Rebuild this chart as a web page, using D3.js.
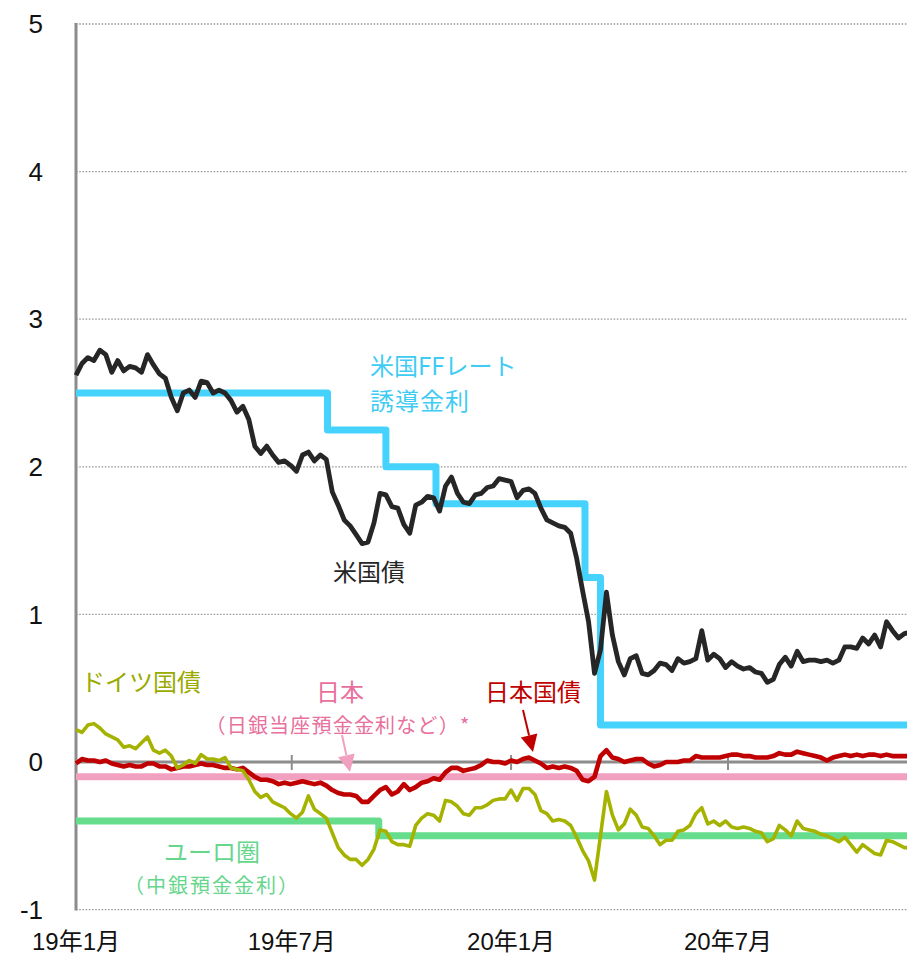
<!DOCTYPE html>
<html>
<head>
<meta charset="utf-8">
<script src="https://cdn.jsdelivr.net/npm/d3@7"></script>
<style>
  html, body { margin: 0; padding: 0; background: #ffffff; }
  svg { display: block; }
</style>
</head>
<body>
<svg id="chart" width="907" height="959"></svg>
<script>
// ---- data -------------------------------------------------------------
const yTicks = [-1, 0, 1, 2, 3, 4, 5];
const xTickLabels = ["19年1月", "19年7月", "20年1月", "20年7月"];
const xTickDates = ["2019-01-01", "2019-07-01", "2020-01-01", "2020-07-01"];

// daily yields sampled every 5 calendar days from 2019-01-01
const sampleStart = "2019-01-01";
const sampleStepDays = 5;

// 米国債 (10y)
const usTreasury = [
  2.62, 2.70, 2.74, 2.72, 2.79, 2.76, 2.64, 2.72, 2.65, 2.68,
  2.67, 2.64, 2.76, 2.69, 2.63, 2.60, 2.47, 2.38, 2.50, 2.52,
  2.47, 2.58, 2.57, 2.50, 2.52, 2.50, 2.45, 2.37, 2.41, 2.32,
  2.14, 2.09, 2.14, 2.08, 2.03, 2.04, 2.01, 1.97, 2.08, 2.10,
  2.04, 2.08, 2.05, 1.83, 1.74, 1.64, 1.60, 1.54, 1.48, 1.49,
  1.62, 1.82, 1.81, 1.73, 1.72, 1.61, 1.55, 1.74, 1.76, 1.80,
  1.79, 1.70, 1.87, 1.93, 1.82, 1.76, 1.75, 1.81, 1.82, 1.86,
  1.87, 1.92, 1.91, 1.90, 1.79, 1.84, 1.85, 1.82, 1.72, 1.64,
  1.62, 1.60, 1.59, 1.55, 1.38, 1.16, 0.95, 0.60, 0.76, 1.15,
  0.86, 0.68, 0.59, 0.70, 0.72, 0.60, 0.59, 0.62, 0.67, 0.66,
  0.62, 0.70, 0.67, 0.68, 0.70, 0.89, 0.69, 0.73, 0.70, 0.64,
  0.68, 0.65, 0.63, 0.64, 0.61, 0.60, 0.54, 0.56, 0.66, 0.71,
  0.65, 0.75, 0.68, 0.69, 0.69, 0.68, 0.69, 0.67, 0.69, 0.78,
  0.78, 0.77, 0.84, 0.80, 0.86, 0.78, 0.95, 0.89, 0.84, 0.87,
  0.88
];

// 日本国債 (10y)
const jgb = [
  -0.01, 0.02, 0.01, 0.01, 0.00, 0.01, -0.01, -0.02, -0.03, -0.02,
  -0.03, -0.03, -0.01, -0.01, -0.03, -0.03, -0.05, -0.04, -0.03, -0.03,
  -0.02, -0.01, -0.02, -0.02, -0.03, -0.04, -0.04, -0.05, -0.04, -0.07,
  -0.10, -0.12, -0.12, -0.13, -0.15, -0.14, -0.15, -0.14, -0.13, -0.14,
  -0.15, -0.14, -0.16, -0.19, -0.21, -0.22, -0.22, -0.23, -0.27, -0.27,
  -0.23, -0.19, -0.17, -0.22, -0.20, -0.15, -0.19, -0.17, -0.14, -0.13,
  -0.11, -0.12, -0.07, -0.04, -0.04, -0.06, -0.05, -0.04, -0.02, 0.01,
  0.00, 0.00, -0.01, 0.01, 0.00, 0.02, 0.03, 0.01, -0.01, -0.04,
  -0.03, -0.04, -0.03, -0.04, -0.06, -0.12, -0.13, -0.10, 0.04, 0.08,
  0.03, 0.02, 0.00, 0.01, 0.02, 0.02, -0.01, -0.03, -0.02, 0.00,
  0.00, 0.00, 0.01, 0.01, 0.04, 0.03, 0.03, 0.03, 0.03, 0.04,
  0.05, 0.05, 0.04, 0.04, 0.03, 0.03, 0.03, 0.04, 0.06, 0.05,
  0.05, 0.07, 0.06, 0.05, 0.04, 0.03, 0.01, 0.03, 0.04, 0.05,
  0.04, 0.05, 0.04, 0.05, 0.05, 0.04, 0.05, 0.04, 0.04, 0.04,
  0.04
];

// ドイツ国債 (10y)
const bund = [
  0.22, 0.20, 0.25, 0.26, 0.23, 0.19, 0.17, 0.15, 0.10, 0.11,
  0.09, 0.13, 0.17, 0.08, 0.06, 0.08, 0.04, -0.04, -0.02, 0.01,
  -0.01, 0.05, 0.02, 0.02, 0.01, 0.03, -0.04, -0.05, -0.06, -0.12,
  -0.20, -0.24, -0.22, -0.27, -0.29, -0.31, -0.35, -0.38, -0.34, -0.23,
  -0.32, -0.35, -0.38, -0.48, -0.58, -0.63, -0.66, -0.66, -0.70, -0.66,
  -0.59, -0.46, -0.47, -0.54, -0.56, -0.56, -0.57, -0.43, -0.38, -0.35,
  -0.36, -0.40, -0.26, -0.27, -0.30, -0.35, -0.36, -0.31, -0.31, -0.29,
  -0.26, -0.25, -0.25, -0.19, -0.26, -0.18, -0.18, -0.22, -0.33, -0.35,
  -0.40, -0.39, -0.40, -0.43, -0.51, -0.60, -0.67, -0.80, -0.50, -0.20,
  -0.36, -0.46, -0.42, -0.32, -0.36, -0.44, -0.45, -0.50, -0.56, -0.53,
  -0.53, -0.47, -0.46, -0.43, -0.35, -0.31, -0.42, -0.40, -0.43, -0.40,
  -0.44, -0.45, -0.44, -0.45, -0.47, -0.48, -0.54, -0.52, -0.43, -0.46,
  -0.50, -0.40, -0.45, -0.46, -0.47, -0.49, -0.50, -0.52, -0.54, -0.51,
  -0.56, -0.61, -0.56, -0.59, -0.62, -0.63, -0.53, -0.54, -0.56, -0.58,
  -0.58
];

// 米国FFレート誘導金利 (upper bound), change dates
const ffDates = ["2019-01-01", "2019-07-31", "2019-09-18", "2019-10-30", "2020-03-03", "2020-03-16", "2020-12-01"];
const ffRate  = [2.50, 2.25, 2.00, 1.75, 1.25, 0.25, 0.25];

// ユーロ圏 中銀預金金利
const ecbDates = ["2019-01-01", "2019-09-12", "2020-12-01"];
const ecbRate  = [-0.40, -0.50, -0.50];

// 日本 日銀当座預金金利
const bojDates = ["2019-01-01", "2020-12-01"];
const bojRate  = [-0.10, -0.10];

// ---- helpers ----------------------------------------------------------
const parse = d3.utcParse("%Y-%m-%d");
const start = parse(sampleStart);
const sampled = vals => vals.map((v, i) => ({ date: d3.utcDay.offset(start, i * sampleStepDays), value: v }));
const stepped = (dates, vals) => dates.map((d, i) => ({ date: parse(d), value: vals[i] }));

// ---- layout -----------------------------------------------------------
const svg = d3.select("#chart");
const plot = { left: 76, right: 910.4, top: 24, bottom: 909.6 };

const x = d3.scaleUtc()
  .domain([parse("2019-01-01"), parse("2020-12-01")])
  .range([plot.left, plot.right]);
const y = d3.scaleLinear().domain([-1, 5]).range([plot.bottom, plot.top]);

const axisGray = "#8c8c8c";

// dotted gridlines
svg.append("g").selectAll("line")
  .data(yTicks.filter(v => v !== 0))
  .join("line")
  .attr("x1", plot.left).attr("x2", 907)
  .attr("y1", d => y(d)).attr("y2", d => y(d))
  .attr("stroke", "#9a9a9a").attr("stroke-width", 1.3)
  .attr("stroke-dasharray", "1.6,1.6");

// zero line with month ticks
svg.append("line")
  .attr("x1", plot.left).attr("x2", 907)
  .attr("y1", y(0)).attr("y2", y(0))
  .attr("stroke", axisGray).attr("stroke-width", 3);

svg.append("g").selectAll("line")
  .data(xTickDates.slice(1))
  .join("line")
  .attr("x1", d => x(parse(d))).attr("x2", d => x(parse(d)))
  .attr("y1", y(0) - 7).attr("y2", y(0) + 8)
  .attr("stroke", axisGray).attr("stroke-width", 2);

// vertical axis
svg.append("line")
  .attr("x1", plot.left).attr("x2", plot.left)
  .attr("y1", y(5) - 1).attr("y2", y(-1) + 1)
  .attr("stroke", axisGray).attr("stroke-width", 3);

// y tick labels
svg.append("g").selectAll("text")
  .data(yTicks)
  .join("text")
  .attr("x", 43).attr("y", d => y(d))
  .attr("dy", "0.35em")
  .attr("text-anchor", "end")
  .attr("font-family", "'Liberation Sans', Arial, sans-serif")
  .attr("font-size", 26)
  .attr("fill", "#111")
  .text(d => d);

// x tick labels
svg.append("g").selectAll("text")
  .data(xTickDates)
  .join("text")
  .attr("x", d => x(parse(d))).attr("y", 950)
  .attr("text-anchor", "middle")
  .attr("font-family", "'Liberation Sans', 'Noto Sans CJK JP', sans-serif")
  .attr("font-size", 24)
  .attr("fill", "#111")
  .text((d, i) => xTickLabels[i]);

// ---- series -------------------------------------------------------------
const line = d3.line().x(d => x(d.date)).y(d => y(d.value));
const stepLine = d3.line().x(d => x(d.date)).y(d => y(d.value)).curve(d3.curveStepAfter);

function drawPath(data, gen, color, width) {
  svg.append("path")
    .datum(data)
    .attr("d", gen)
    .attr("fill", "none")
    .attr("stroke", color)
    .attr("stroke-width", width)
    .attr("stroke-linejoin", "round");
}

drawPath(stepped(ffDates, ffRate), stepLine, "#45d3fd", 7);
drawPath(stepped(ecbDates, ecbRate), stepLine, "#66dd8c", 7);
drawPath(stepped(bojDates, bojRate), stepLine, "#f2a0c0", 7);
drawPath(sampled(usTreasury), line, "#262626", 4.8);
drawPath(sampled(jgb), line, "#c00000", 4.6);
drawPath(sampled(bund), line, "#a5b300", 3.6);

// ---- annotations ------------------------------------------------------
const jpFont = "'Noto Sans CJK JP', sans-serif";
const labels = [
  { text: "米国FFレート", x: 370, y: 375, size: 24, color: "#3fcbf3", anchor: "start", spacing: 0 },
  { text: "誘導金利", x: 370, y: 410, size: 24, color: "#3fcbf3", anchor: "start", spacing: 1 },
  { text: "米国債", x: 333, y: 581, size: 24, color: "#262626", anchor: "start", spacing: 0 },
  { text: "ドイツ国債", x: 81, y: 691, size: 24, color: "#9aaa00", anchor: "start", spacing: 0 },
  { text: "日本", x: 340, y: 701, size: 24, color: "#e8709c", anchor: "middle", spacing: 0 },
  { text: "（日銀当座預金金利など）*", x: 338, y: 733, size: 20, color: "#e8709c", anchor: "middle", spacing: 1.2 },
  { text: "日本国債", x: 533, y: 701, size: 24, color: "#c00000", anchor: "middle", spacing: 0 },
  { text: "ユーロ圏", x: 212, y: 861, size: 24, color: "#66d68c", anchor: "middle", spacing: 0 },
  { text: "（中銀預金金利）", x: 212, y: 893, size: 20, color: "#66d68c", anchor: "middle", spacing: 2 }
];

svg.append("g").selectAll("text")
  .data(labels)
  .join("text")
  .attr("x", d => d.x).attr("y", d => d.y)
  .attr("text-anchor", d => d.anchor)
  .attr("font-family", jpFont)
  .attr("font-size", d => d.size)
  .attr("letter-spacing", d => d.spacing)
  .attr("fill", d => d.color)
  .text(d => d.text);

// pointer arrows to the policy-rate line and the JGB line
function arrow(x1, y1, x2, y2, color) {
  const ang = Math.atan2(y2 - y1, x2 - x1);
  const len = 17, half = 8.5;
  const bx = x2 - len * Math.cos(ang), by = y2 - len * Math.sin(ang);
  svg.append("line")
    .attr("x1", x1).attr("y1", y1).attr("x2", bx).attr("y2", by)
    .attr("stroke", color).attr("stroke-width", 2);
  svg.append("path")
    .attr("d", `M${x2},${y2} L${bx + half * Math.sin(ang)},${by - half * Math.cos(ang)} L${bx - half * Math.sin(ang)},${by + half * Math.cos(ang)} Z`)
    .attr("fill", color);
}
arrow(342, 735, 350, 772, "#f2a0c0");
arrow(523, 710, 533, 752, "#c00000");
</script>
</body>
</html>
